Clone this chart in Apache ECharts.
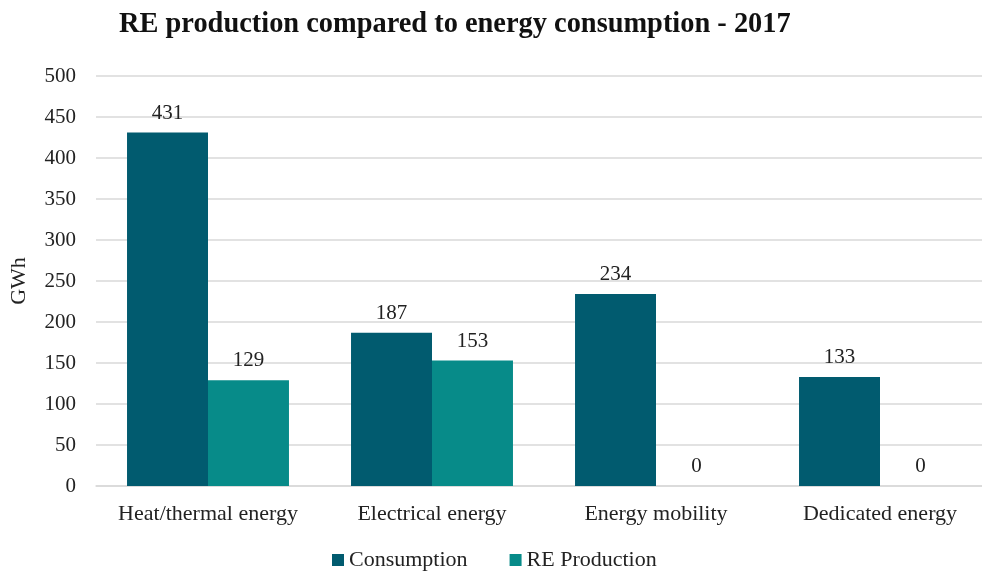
<!DOCTYPE html>
<html>
<head>
<meta charset="utf-8">
<script src="https://cdn.jsdelivr.net/npm/echarts@6/dist/echarts.min.js"></script>
<style>
  html, body { margin: 0; padding: 0; background: #fff; overflow: hidden; }
  /* the plot runs slightly past the right edge of the window */
  #chart { width: 992px; height: 576px; }
</style>
</head>
<body>
<div id="chart"></div>
<script>
const categories = ['Heat/thermal energy', 'Electrical energy', 'Energy mobility', 'Dedicated energy'];
const consumption = [431, 187, 234, 133];
const reProduction = [129, 153, 0, 0];
const yTicks = { min: 0, max: 500, interval: 50 };

const serif = '"Liberation Serif", "DejaVu Serif", serif';
const chart = echarts.init(document.getElementById('chart'));

const labelStyle = {
  show: true,
  position: 'top',
  distance: 9,
  color: '#222',
  fontFamily: serif,
  fontSize: 21
};

chart.setOption({
  animation: false,
  title: {
    text: 'RE production compared to energy consumption - 2017',
    left: 114,
    top: 6,
    textStyle: { fontFamily: serif, fontWeight: 'bold', fontSize: 28.4, color: '#111' }
  },
  legend: {
    bottom: 0,
    left: 327,
    itemWidth: 12,
    itemHeight: 12,
    itemGap: 42,
    icon: 'rect',
    textStyle: { fontFamily: serif, fontSize: 22, color: '#222' },
    data: ['Consumption', 'RE Production']
  },
  grid: { left: 96, right: 0, top: 76, bottom: 90, containLabel: false },
  xAxis: {
    type: 'category',
    data: categories,
    axisTick: { show: false },
    axisLine: { lineStyle: { color: '#d9d9d9', width: 1.5 } },
    axisLabel: { fontFamily: serif, fontSize: 22, color: '#222', margin: 17, interval: 0 }
  },
  yAxis: {
    type: 'value',
    min: yTicks.min,
    max: yTicks.max,
    interval: yTicks.interval,
    name: 'GWh',
    nameLocation: 'middle',
    nameGap: 66,
    nameRotate: 90,
    nameTextStyle: { fontFamily: serif, fontSize: 22, color: '#222' },
    axisLine: { show: false },
    axisTick: { show: false },
    axisLabel: { fontFamily: serif, fontSize: 21, color: '#222', margin: 20 },
    splitLine: { lineStyle: { color: '#d9d9d9', width: 1.5 } }
  },
  series: [
    {
      name: 'Consumption',
      type: 'bar',
      data: consumption,
      barGap: '0%',
      barCategoryGap: '27.7%',
      itemStyle: { color: '#015B6F' },
      label: labelStyle
    },
    {
      name: 'RE Production',
      type: 'bar',
      data: reProduction,
      itemStyle: { color: '#078B89' },
      label: labelStyle
    }
  ]
});
</script>
</body>
</html>
